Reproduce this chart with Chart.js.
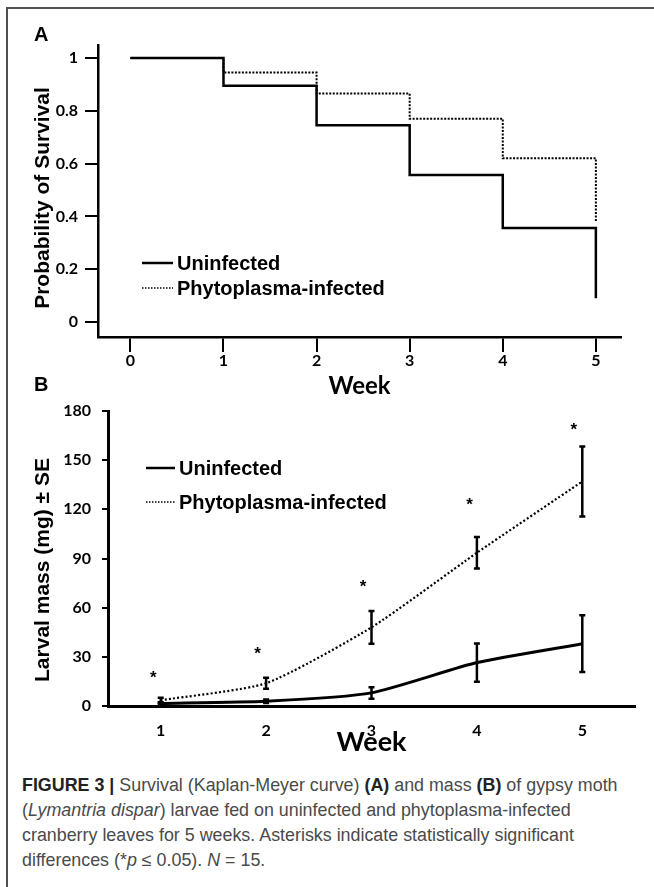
<!DOCTYPE html>
<html>
<head>
<meta charset="utf-8">
<script src="https://cdn.jsdelivr.net/npm/chart.js@4.4.1/dist/chart.umd.min.js"></script>
<style>
html,body{margin:0;padding:0;background:#fff;}
#page{position:relative;width:654px;height:887px;overflow:hidden;background:#fff;}
#frame{position:absolute;left:6px;top:7px;width:700px;height:900px;border-top:2px solid #505050;border-left:2px solid #505050;}
canvas{position:absolute;left:0;}
#cA{top:0;}
#cB{top:370px;}
#caption{position:absolute;left:22px;top:773px;font-family:'Liberation Sans',Arial,sans-serif;font-size:17px;line-height:25px;color:#4a4a4a;white-space:nowrap;}
#caption b{color:#222;}
#caption .ln span{display:inline-block;}
</style>
</head>
<body>
<div id="page">
  <div id="frame"></div>
  <canvas id="cA" width="654" height="401"></canvas>
  <canvas id="cB" width="654" height="390"></canvas>
  <div id="caption">
    <div class="ln"><span><b>FIGURE 3 |</b> Survival (Kaplan-Meyer curve) <b>(A)</b> and mass <b>(B)</b> of gypsy moth</span></div>
    <div class="ln"><span>(<i>Lymantria dispar</i>) larvae fed on uninfected and phytoplasma-infected</span></div>
    <div class="ln"><span>cranberry leaves for 5 weeks. Asterisks indicate statistically significant</span></div>
    <div class="ln"><span>differences (*<i>p</i> ≤ 0.05). <i>N</i> = 15.</span></div>
  </div>
</div>
<script>
// ---------- Panel A data (Kaplan-Meyer survival) ----------
const weeksA = [0, 1, 2, 3, 4, 5];
const survivalUninfected = [1.00, 0.895, 0.745, 0.557, 0.356, 0.09];
const survivalInfected   = [1.00, 0.945, 0.865, 0.770, 0.620, 0.38];
const yTicksA = [0, 0.2, 0.4, 0.6, 0.8, 1];
const yTickLabelsA = ['0', '0.2', '0.4', '0.6', '0.8', '1'];
const xTickLabelsA = ['0', '1', '2', '3', '4', '5'];

// ---------- Panel B data (larval mass) ----------
const weeksB = [1, 2, 3, 4, 5];
const massUninfected = [1.5, 2.9, 8.0, 26.5, 38.0];
const seUninfected   = [0.8, 1.0, 3.5, 11.7, 17.3];
const massInfected   = [3.5, 13.9, 48.0, 93.5, 137.0];
const seInfected     = [1.5, 3.3, 10.0, 9.6, 21.3];
const yTicksB = [0, 30, 60, 90, 120, 150, 180];
const xTickLabelsB = ['1', '2', '3', '4', '5'];
const starWeeks  = [0.93, 1.92, 2.92, 3.93, 4.92];
const starValues = [20.4, 34.8, 75.8, 125.7, 171.5];

const seriesNames = ['Uninfected', 'Phytoplasma-infected'];

// ---------- plugins ----------
const panelText = {
  id: 'panelText',
  afterDraw(chart, args, opts) {
    const ctx = chart.ctx;
    (opts.items || []).forEach(it => {
      ctx.save();
      ctx.font = it.font;
      ctx.fillStyle = it.color || '#000';
      ctx.textAlign = it.align || 'center';
      ctx.textBaseline = it.baseline || 'middle';
      ctx.translate(it.x, it.y);
      if (it.rotate) ctx.rotate(it.rotate);
      ctx.fillText(it.text, 0, 0);
      ctx.restore();
    });
  }
};

const lineLegend = {
  id: 'lineLegend',
  afterDraw(chart, args, opts) {
    const ctx = chart.ctx;
    chart.data.datasets.forEach((ds, i) => {
      const y = opts.ys[i];
      ctx.save();
      ctx.strokeStyle = ds.borderColor;
      ctx.lineWidth = opts.widths[i];
      ctx.setLineDash(opts.dashes[i]);
      ctx.beginPath();
      ctx.moveTo(opts.x0, y);
      ctx.lineTo(opts.x1, y);
      ctx.stroke();
      ctx.setLineDash([]);
      ctx.font = opts.font;
      ctx.fillStyle = '#000';
      ctx.textAlign = 'left';
      ctx.textBaseline = 'middle';
      ctx.fillText(ds.label, opts.textX, y + 1);
      ctx.restore();
    });
  }
};

const errorBars = {
  id: 'errorBars',
  afterDatasetsDraw(chart, args, opts) {
    const ctx = chart.ctx, ys = chart.scales.y;
    chart.data.datasets.forEach((ds, i) => {
      if (!ds.errors) return;
      const meta = chart.getDatasetMeta(i);
      meta.data.forEach((pt, j) => {
        const v = ds.data[j].y;
        const top = ys.getPixelForValue(v + ds.errors[j]);
        const bot = ys.getPixelForValue(v - ds.errors[j]);
        ctx.save();
        ctx.strokeStyle = '#000';
        ctx.lineWidth = opts.width;
        ctx.setLineDash([]);
        ctx.beginPath();
        ctx.moveTo(pt.x, top); ctx.lineTo(pt.x, bot);
        ctx.moveTo(pt.x - opts.cap, top); ctx.lineTo(pt.x + opts.cap, top);
        ctx.moveTo(pt.x - opts.cap, bot); ctx.lineTo(pt.x + opts.cap, bot);
        ctx.stroke();
        ctx.restore();
      });
    });
  }
};

const asterisks = {
  id: 'asterisks',
  afterDatasetsDraw(chart, args, opts) {
    const ctx = chart.ctx, xs = chart.scales.x, ys = chart.scales.y;
    ctx.save();
    ctx.font = opts.font;
    ctx.fillStyle = '#000';
    ctx.textAlign = 'center';
    ctx.textBaseline = 'alphabetic';
    starWeeks.forEach((w, i) => {
      const px = xs.getPixelForValue(w);
      const py = ys.getPixelForValue(starValues[i]);
      ctx.fillText('*', px, py + opts.shift);
    });
    ctx.restore();
  }
};

Chart.defaults.animation = false;
Chart.defaults.devicePixelRatio = 1;

const tickFont = {family: 'Lato', weight: 'bold', size: 16};

// ---------- Chart A ----------
new Chart(document.getElementById('cA'), {
  type: 'line',
  data: {
    datasets: [
      {
        label: seriesNames[0],
        data: weeksA.map((w, i) => ({x: w, y: survivalUninfected[i]})),
        borderColor: '#000', borderWidth: 2.5, stepped: true,
        pointRadius: 0, fill: false
      },
      {
        label: seriesNames[1],
        data: weeksA.map((w, i) => ({x: w, y: survivalInfected[i]})),
        borderColor: '#000', borderWidth: 2, borderDash: [2, 1.5], stepped: true,
        pointRadius: 0, fill: false
      }
    ]
  },
  options: {
    responsive: false,
    animation: false,
    layout: {padding: {left: 0, top: 45, right: 33, bottom: 0}},
    plugins: {
      legend: {display: false},
      tooltip: {enabled: false},
      lineLegend: {
        x0: 142, x1: 173, textX: 177, ys: [263, 288],
        widths: [2.5, 1.5], dashes: [[], [1.5, 1.5]],
        font: 'bold 20px "Liberation Sans", Arial, sans-serif'
      },
      panelText: {
        items: [
          {text: 'A', x: 34, y: 41, align: 'left', baseline: 'alphabetic', font: 'bold 20px "Liberation Sans", Arial, sans-serif'},
          {text: 'Probability of Survival', x: 43, y: 198, rotate: -Math.PI / 2, font: 'bold 21px "Liberation Sans", Arial, sans-serif'}
        ]
      }
    },
    scales: {
      x: {
        type: 'linear', min: -0.348, max: 5.27,
        afterFit(s) { s.height = 401 - 337; },
        afterBuildTicks(s) { s.ticks = weeksA.map(v => ({value: v})); },
        ticks: {autoSkip: false, maxRotation: 0, padding: -1, color: '#000', font: tickFont,
                callback: (v, i) => xTickLabelsA[i]},
        grid: {display: true, drawOnChartArea: false, drawTicks: true, tickLength: 15, color: '#000', lineWidth: 2},
        border: {display: true, color: '#000', width: 2.5},
        title: {display: true, text: 'Week', color: '#000', padding: {top: 0, bottom: 0},
                font: {family: 'Lato', weight: 'bold', size: 24}}
      },
      y: {
        type: 'linear', min: -0.057, max: 1.049,
        afterFit(s) { s.width = 98; },
        afterBuildTicks(s) { s.ticks = yTicksA.map(v => ({value: v})); },
        ticks: {autoSkip: false, padding: 7, color: '#000', font: tickFont,
                callback: (v, i) => yTickLabelsA[i]},
        grid: {display: true, drawOnChartArea: false, drawTicks: true, tickLength: 13, color: '#000', lineWidth: 2},
        border: {display: true, color: '#000', width: 2.5}
      }
    }
  },
  plugins: [lineLegend, panelText]
});

// ---------- Chart B ----------
new Chart(document.getElementById('cB'), {
  type: 'line',
  data: {
    datasets: [
      {
        label: seriesNames[0],
        data: weeksB.map((w, i) => ({x: w, y: massUninfected[i]})),
        errors: seUninfected,
        borderColor: '#000', borderWidth: 3, tension: 0.2,
        pointRadius: 0, fill: false
      },
      {
        label: seriesNames[1],
        data: weeksB.map((w, i) => ({x: w, y: massInfected[i]})),
        errors: seInfected,
        borderColor: '#000', borderWidth: 2.2, borderDash: [2, 2.2], tension: 0.2,
        pointRadius: 0, fill: false
      }
    ]
  },
  options: {
    responsive: false,
    animation: false,
    layout: {padding: {left: 0, top: 41, right: 19, bottom: 0}},
    plugins: {
      legend: {display: false},
      tooltip: {enabled: false},
      errorBars: {width: 2.5, cap: 3},
      asterisks: {font: 'bold 17px "Liberation Sans", Arial, sans-serif', shift: 10},
      lineLegend: {
        x0: 146, x1: 175, textX: 179, ys: [98, 132],
        widths: [2.5, 1.5], dashes: [[], [1.5, 1.5]],
        font: 'bold 20px "Liberation Sans", Arial, sans-serif'
      },
      panelText: {
        items: [
          {text: 'B', x: 34, y: 21, align: 'left', baseline: 'alphabetic', font: 'bold 20px "Liberation Sans", Arial, sans-serif'},
          {text: 'Larval mass (mg) ± SE', x: 43, y: 200, rotate: -Math.PI / 2, font: 'bold 21px "Liberation Sans", Arial, sans-serif'}
        ]
      }
    },
    scales: {
      x: {
        type: 'linear', min: 0.5, max: 5.5,
        afterFit(s) { s.height = 390 - 336; },
        afterBuildTicks(s) { s.ticks = weeksB.map(v => ({value: v})); },
        ticks: {autoSkip: false, maxRotation: 0, padding: 15, color: '#000', font: tickFont,
                callback: (v, i) => xTickLabelsB[i]},
        grid: {display: false, drawTicks: false},
        border: {display: true, color: '#000', width: 3},
        title: {display: true, text: 'Week', color: '#000', padding: {top: 0, bottom: 2},
                font: {family: 'Lato', weight: 'bold', size: 27}}
      },
      y: {
        type: 'linear', min: 0, max: 180,
        afterFit(s) { s.width = 108; },
        afterBuildTicks(s) { s.ticks = yTicksB.map(v => ({value: v})); },
        ticks: {autoSkip: false, padding: 11, color: '#000', font: tickFont},
        grid: {display: true, drawOnChartArea: false, drawTicks: true, tickLength: 6, color: '#000', lineWidth: 2},
        border: {display: true, color: '#000', width: 3}
      }
    }
  },
  plugins: [errorBars, asterisks, lineLegend, panelText]
});

// ---------- caption fit ----------
(function () {
  const cap = document.getElementById('caption');
  const first = cap.querySelector('.ln span');
  const w = first.getBoundingClientRect().width;
  if (w > 0) cap.style.fontSize = (17 * 596 / w).toFixed(2) + 'px';
})();
</script>
</body>
</html>
